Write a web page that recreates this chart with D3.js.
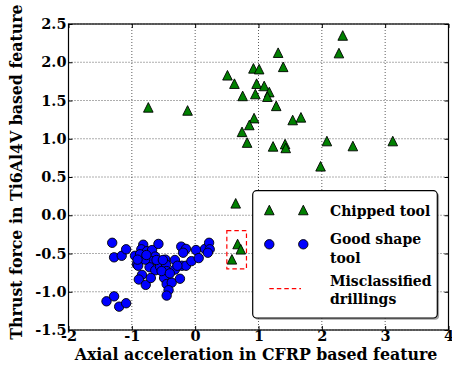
<!DOCTYPE html>
<html>
<head>
<meta charset="utf-8">
<script src="https://cdn.jsdelivr.net/npm/d3@7"></script>
<style>
body { margin: 0; background: white; }
text { font-family: "DejaVu Serif", serif; font-weight: bold; }
</style>
</head>
<body>
<script>
/* Data */
var chippedX = [-0.74, -0.12, 0.51, 0.62, 0.75, 0.92, 1.01, 0.97, 1.09, 0.95, 1.17, 1.14, 1.28, 1.31, 1.39,
	2.33, 2.27, 0.93, 0.855, 0.74, 0.82, 1.54, 1.67, 1.23, 1.42, 1.43, 2.08, 2.49, 3.12, 1.98,
	0.64, 0.67, 0.72, 0.58];
var chippedY = [1.41, 1.37, 1.83, 1.72, 1.56, 1.92, 1.91, 1.72, 1.69, 1.585, 1.61, 1.55, 1.43, 2.125, 1.94,
	2.35, 2.12, 1.27, 1.18, 1.09, 0.95, 1.245, 1.28, 0.90, 0.93, 0.88, 0.97, 0.905, 0.97, 0.64,
	0.156, -0.376, -0.445, -0.576];

var goodX = [-1.31, -1.28, -1.16, -1.09, -1.40, -1.28, -1.20, -1.09, -0.95, -0.92, -0.90, -0.82, -0.85,
	-0.76, -0.855, -0.87, -0.68, -0.58, -0.63, -0.69, -0.72, -0.63, -0.84, -0.89, -0.78, -0.70,
	-0.555, -0.47, -0.46, -0.45, -0.49, -0.45, -0.37, -0.42, -0.45, -0.32, -0.32, -0.24, -0.22,
	-0.145, -0.19, -0.21, -0.145, -0.06, 0.013, 0.056, 0.155, 0.22, 0.23, 0.20,
	-0.79, -0.61, -0.91, -0.77, -0.53, -0.40, -0.28, -0.51];
var goodY = [-0.36, -0.55, -0.53, -0.445, -1.125, -1.06, -1.195, -1.15, -0.53, -0.64, -0.66, -0.385, -0.445,
	-0.47, -0.54, -0.51, -0.455, -0.375, -0.54, -0.60, -0.68, -0.72, -0.78, -0.84, -0.91, -0.82,
	-0.67, -0.58, -0.645, -0.73, -0.82, -0.90, -0.88, -0.98, -1.05, -0.585, -0.71, -0.83, -0.41,
	-0.44, -0.49, -0.66, -0.66, -0.60, -0.455, -0.56, -0.44, -0.36, -0.445, -0.49,
	-0.58, -0.585, -0.58, -0.52, -0.73, -0.76, -0.66, -0.585];

/* misclassified drillings box: x0, x1, y0, y1 */
var misBox = [0.5, 0.81, -0.70, -0.20];

var xTicks = [-2, -1, 0, 1, 2, 3, 4];
var xTickLabels = ["-2", "-1", "0", "1", "2", "3", "4"];
var yTicks = [-1.5, -1.0, -0.5, 0.0, 0.5, 1.0, 1.5, 2.0, 2.5];
var yTickLabels = ["-1.5", "-1.0", "-0.5", "0.0", "0.5", "1.0", "1.5", "2.0", "2.5"];

var legendLabels = [["Chipped tool"], ["Good shape", "tool"], ["Misclassified", "drillings"]];

/* Layout (names avoid window.top etc.) */
var plotL = 68.5, plotR = 448.5, plotT = 24, plotB = 330;

var svg = d3.select("body").append("svg")
	.attr("width", 452)
	.attr("height", 370);

var x = d3.scaleLinear().domain([-2, 4]).range([plotL, plotR]);
var y = d3.scaleLinear().domain([-1.5, 2.5]).range([plotB, plotT]);

/*grid lines*/
var grid = svg.append("g");
grid.selectAll(".gx").data(xTicks).enter().append("line")
	.attr("x1", function(d){return x(d);}).attr("x2", function(d){return x(d);})
	.attr("y1", plotT).attr("y2", plotB)
	.style("stroke", "#333").style("stroke-width", 0.8).style("stroke-dasharray", "1,2");
grid.selectAll(".gy").data(yTicks).enter().append("line")
	.attr("y1", function(d){return y(d);}).attr("y2", function(d){return y(d);})
	.attr("x1", plotL).attr("x2", plotR)
	.style("stroke", "#333").style("stroke-width", 0.8).style("stroke-dasharray", "1,2");

/*triangle marker like matplotlib '^'*/
var tri = {draw: function(ctx, size){
	var r = Math.sqrt(size) / 2;
	ctx.moveTo(0, -r); ctx.lineTo(-r, r); ctx.lineTo(r, r); ctx.closePath();
}};
var triPath = d3.symbol().type(tri).size(92)();

/*good shape tool points*/
svg.append("g").selectAll("circle").data(goodX).enter().append("circle")
	.attr("cx", function(d){return x(d);})
	.attr("cy", function(d, i){return y(goodY[i]);})
	.attr("r", 4.7)
	.attr("fill", "#0000ff").attr("stroke", "black").attr("stroke-width", 0.9);

/*chipped tool points*/
svg.append("g").selectAll("path").data(chippedX).enter().append("path")
	.attr("d", triPath)
	.attr("transform", function(d, i){return "translate(" + x(d) + "," + y(chippedY[i]) + ")";})
	.attr("fill", "#008000").attr("stroke", "black").attr("stroke-width", 0.9);

/*misclassified box*/
svg.append("rect")
	.attr("x", x(misBox[0])).attr("y", y(misBox[3]))
	.attr("width", x(misBox[1]) - x(misBox[0]))
	.attr("height", y(misBox[2]) - y(misBox[3]))
	.attr("fill", "none").attr("stroke", "red").attr("stroke-width", 1.2)
	.attr("stroke-dasharray", "4.5,3");

/*axes with inward ticks on all sides*/
var fmtX = function(d){return xTickLabels[xTicks.indexOf(d)];};
var fmtY = function(d){return yTickLabels[yTicks.indexOf(d)];};

svg.append("g").attr("transform", "translate(0," + plotB + ")")
	.call(d3.axisBottom(x).tickValues(xTicks).tickSizeInner(-4).tickSizeOuter(0).tickPadding(1).tickFormat(fmtX));
svg.append("g").attr("transform", "translate(0," + plotT + ")")
	.call(d3.axisTop(x).tickValues(xTicks).tickSizeInner(-4).tickSizeOuter(0).tickFormat(""));
svg.append("g").attr("transform", "translate(" + plotL + ",0)")
	.call(d3.axisLeft(y).tickValues(yTicks).tickSizeInner(-4).tickSizeOuter(0).tickPadding(2).tickFormat(fmtY));
svg.append("g").attr("transform", "translate(" + plotR + ",0)")
	.call(d3.axisRight(y).tickValues(yTicks).tickSizeInner(-4).tickSizeOuter(0).tickFormat(""));

svg.selectAll(".domain").remove();
svg.selectAll(".tick line").attr("stroke", "black").attr("stroke-width", 1);
svg.selectAll(".tick text").style("font-size", "14.5px").style("font-family", "DejaVu Serif")
	.style("font-weight", "bold").attr("fill", "black");

/*frame*/
svg.append("rect")
	.attr("x", plotL).attr("y", plotT).attr("width", plotR - plotL).attr("height", plotB - plotT)
	.attr("fill", "none").attr("stroke", "black").attr("stroke-width", 1.2);

/*axis titles*/
svg.append("text")
	.attr("x", 256).attr("y", 360)
	.attr("text-anchor", "middle")
	.style("font-size", "15.8px")
	.text("Axial acceleration in CFRP based feature");

svg.append("text")
	.attr("transform", "translate(22,172) rotate(-90)")
	.attr("text-anchor", "middle")
	.style("font-size", "15.8px")
	.text("Thrust force in Ti6Al4V based feature");

/*legend*/
var legend = svg.append("g");
legend.append("rect")
	.attr("x", 254.5).attr("y", 192.5).attr("width", 184.6).attr("height", 127.3).attr("rx", 4).attr("ry", 4)
	.attr("fill", "#666").attr("opacity", 0.6);
legend.append("rect")
	.attr("x", 252.7).attr("y", 190.7).attr("width", 184.6).attr("height", 127.3).attr("rx", 4).attr("ry", 4)
	.attr("fill", "white").attr("stroke", "black").attr("stroke-width", 1.2);

var legendMarkX = [269.3, 303.3];
legend.selectAll(".lt").data(legendMarkX).enter().append("path")
	.attr("d", triPath)
	.attr("transform", function(d){return "translate(" + d + ",210)";})
	.attr("fill", "#008000").attr("stroke", "black").attr("stroke-width", 0.9);
legend.selectAll(".lc").data(legendMarkX).enter().append("circle")
	.attr("cx", function(d){return d;}).attr("cy", 244.3).attr("r", 4.7)
	.attr("fill", "#0000ff").attr("stroke", "black").attr("stroke-width", 0.9);
legend.append("line")
	.attr("x1", 269.3).attr("x2", 301).attr("y1", 288.7).attr("y2", 288.7)
	.attr("stroke", "red").attr("stroke-width", 1.2).attr("stroke-dasharray", "4.5,3");

var legendBase = [[216], [244, 262.5], [286, 304]];
legendLabels.forEach(function(lines, i){
	lines.forEach(function(t, j){
		legend.append("text")
			.attr("x", 330).attr("y", legendBase[i][j])
			.style("font-size", "14px")
			.text(t);
	});
});
</script>
</body>
</html>
